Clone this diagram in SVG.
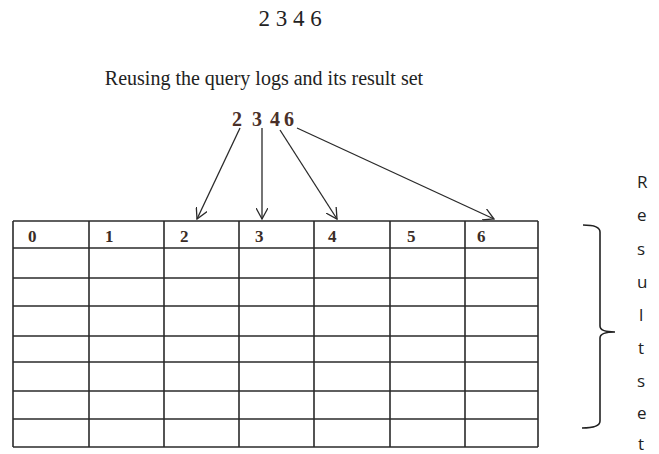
<svg xmlns="http://www.w3.org/2000/svg" width="659" height="454" viewBox="0 0 659 454">
<defs>
<style>
.ttl{font-family:"Liberation Serif","Times New Roman",serif;font-size:20px;fill:#222}
.src{font-family:"Liberation Serif","Times New Roman",serif;font-size:20px;font-weight:bold;fill:#4a3028}
.hd{font-family:"Liberation Serif","Times New Roman",serif;font-size:17px;font-weight:bold;fill:#3a2c26}
.grid line{stroke:#2a2a2a;stroke-width:1.6}
.conn line{stroke:#2a2a2a;stroke-width:1.3}
.side{font-family:"Open Sans","Liberation Sans",sans-serif;font-size:17px;fill:#222}
</style>
<marker id="arr" viewBox="0 0 12 12" refX="11" refY="6" markerWidth="12" markerHeight="12" markerUnits="userSpaceOnUse" orient="auto">
<path d="M0,0 L11,6 L0,12" fill="none" stroke="#2a2a2a" stroke-width="1.3"/>
</marker>
</defs>
<rect width="659" height="454" fill="#ffffff"/>
<g id="title">
<text class="ttl" x="290" y="26" text-anchor="middle" style="font-size:23px">2 3 4 6</text>
<text class="ttl" x="264" y="85" text-anchor="middle">Reusing the query logs and its result set</text>
</g>
<g id="query">
<text class="src" x="232" y="126">2</text>
<text class="src" x="252" y="126">3</text>
<text class="src" x="270" y="126">4</text>
<text class="src" x="284" y="126">6</text>
</g>
<g id="connectors" class="conn">
<line x1="240" y1="128" x2="197" y2="219" marker-end="url(#arr)"/>
<line x1="262" y1="128" x2="262" y2="219" marker-end="url(#arr)"/>
<line x1="280" y1="130" x2="337" y2="219" marker-end="url(#arr)"/>
<line x1="297" y1="128" x2="494" y2="219" marker-end="url(#arr)"/>
</g>
<g id="table">
<g class="grid">
<line x1="13" y1="221" x2="13" y2="447"/>
<line x1="89" y1="221" x2="89" y2="447"/>
<line x1="164" y1="221" x2="164" y2="447"/>
<line x1="239" y1="221" x2="239" y2="447"/>
<line x1="314" y1="221" x2="314" y2="447"/>
<line x1="390" y1="221" x2="390" y2="447"/>
<line x1="465" y1="221" x2="465" y2="447"/>
<line x1="538" y1="221" x2="538" y2="447"/>
<line x1="13" y1="221" x2="538" y2="221"/>
<line x1="13" y1="248" x2="538" y2="248"/>
<line x1="13" y1="278" x2="538" y2="278"/>
<line x1="13" y1="306" x2="538" y2="306"/>
<line x1="13" y1="336" x2="538" y2="336"/>
<line x1="13" y1="362" x2="538" y2="362"/>
<line x1="13" y1="391" x2="538" y2="391"/>
<line x1="13" y1="419" x2="538" y2="419"/>
<line x1="13" y1="447" x2="538" y2="447"/>
</g>
<text class="hd" x="28" y="242">0</text>
<text class="hd" x="105" y="242">1</text>
<text class="hd" x="180" y="242">2</text>
<text class="hd" x="255" y="242">3</text>
<text class="hd" x="328" y="242">4</text>
<text class="hd" x="407" y="242">5</text>
<text class="hd" x="477" y="242">6</text>
</g>
<g id="bracket">
<path d="M583,225 Q600,225 600,232 L600,326 Q600,332 615,332 Q600,332 600,338 L600,421 Q600,428 582,428" fill="none" stroke="#222" stroke-width="1.6"/>
</g>
<g id="label">
<text class="side"><tspan x="637" y="188">R</tspan><tspan x="637" y="221">e</tspan><tspan x="637" y="255">s</tspan><tspan x="637" y="288">u</tspan><tspan x="639" y="321">l</tspan><tspan x="638" y="354">t</tspan><tspan x="637" y="387">s</tspan><tspan x="637" y="419">e</tspan><tspan x="638" y="450">t</tspan></text>
</g>
</svg>
